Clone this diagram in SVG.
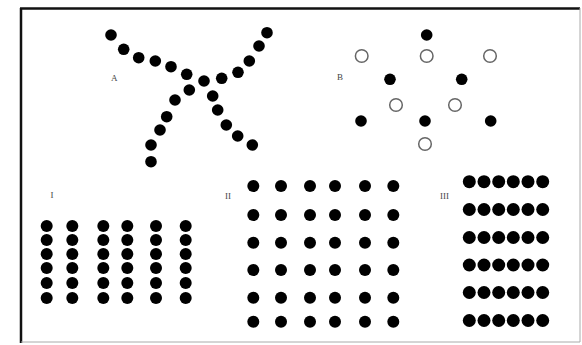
<svg xmlns="http://www.w3.org/2000/svg" width="582" height="345" viewBox="0 0 582 345">
<style>
.d{fill:#000}
.o{fill:#fff;stroke:#666;stroke-width:1.5}
.t{font-family:"Liberation Serif",serif;font-size:9px;fill:#444}
</style>
<rect x="0" y="0" width="582" height="345" fill="#fff"/>
<g id="frame">
<line x1="21" y1="8" x2="21" y2="343" stroke="#111" stroke-width="2.5"/>
<line x1="20" y1="8.5" x2="580" y2="8.5" stroke="#111" stroke-width="2.5"/>
<line x1="580" y1="8" x2="580" y2="342" stroke="#aaa" stroke-width="1"/>
<line x1="21" y1="342" x2="580" y2="342" stroke="#aaa" stroke-width="1"/>
</g>
<g id="groupA">
<text class="t" x="111" y="81">A</text>
<circle class="d" cx="111" cy="35" r="5.8"/>
<circle class="d" cx="123.7" cy="49.3" r="5.8"/>
<circle class="d" cx="138.7" cy="57.7" r="5.8"/>
<circle class="d" cx="155.3" cy="61" r="5.8"/>
<circle class="d" cx="171" cy="66.7" r="5.8"/>
<circle class="d" cx="186.7" cy="74.3" r="5.8"/>
<circle class="d" cx="204" cy="81" r="5.8"/>
<circle class="d" cx="221.7" cy="78.3" r="5.8"/>
<circle class="d" cx="238" cy="72.3" r="5.8"/>
<circle class="d" cx="249.3" cy="61" r="5.8"/>
<circle class="d" cx="259" cy="46" r="5.8"/>
<circle class="d" cx="267" cy="32.7" r="5.8"/>
<circle class="d" cx="189.3" cy="90" r="5.8"/>
<circle class="d" cx="175" cy="100" r="5.8"/>
<circle class="d" cx="166.7" cy="116.7" r="5.8"/>
<circle class="d" cx="160" cy="130" r="5.8"/>
<circle class="d" cx="151" cy="145" r="5.8"/>
<circle class="d" cx="151" cy="161.7" r="5.8"/>
<circle class="d" cx="212.7" cy="96" r="5.8"/>
<circle class="d" cx="217.7" cy="110" r="5.8"/>
<circle class="d" cx="226.3" cy="125" r="5.8"/>
<circle class="d" cx="237.7" cy="136" r="5.8"/>
<circle class="d" cx="252.3" cy="145" r="5.8"/>
</g>
<g id="groupB">
<text class="t" x="337" y="80">B</text>
<circle class="d" cx="426.7" cy="35" r="5.8"/>
<circle class="d" cx="390" cy="79.3" r="5.8"/>
<circle class="d" cx="461.7" cy="79.3" r="5.8"/>
<circle class="d" cx="361" cy="121" r="5.8"/>
<circle class="d" cx="425" cy="121" r="5.8"/>
<circle class="d" cx="490.7" cy="121" r="5.8"/>
<circle class="o" cx="361.7" cy="56" r="6.3"/>
<circle class="o" cx="426.7" cy="56" r="6.3"/>
<circle class="o" cx="490" cy="56" r="6.3"/>
<circle class="o" cx="396" cy="105" r="6.3"/>
<circle class="o" cx="455" cy="105" r="6.3"/>
<circle class="o" cx="425" cy="144" r="6.3"/>
</g>
<g id="groupI">
<text class="t" x="50.5" y="198">I</text>
<circle class="d" cx="46.7" cy="226" r="6"/><circle class="d" cx="46.7" cy="240" r="6"/><circle class="d" cx="46.7" cy="254" r="6"/><circle class="d" cx="46.7" cy="268" r="6"/><circle class="d" cx="46.7" cy="283" r="6"/><circle class="d" cx="46.7" cy="298" r="6"/>
<circle class="d" cx="72.3" cy="226" r="6"/><circle class="d" cx="72.3" cy="240" r="6"/><circle class="d" cx="72.3" cy="254" r="6"/><circle class="d" cx="72.3" cy="268" r="6"/><circle class="d" cx="72.3" cy="283" r="6"/><circle class="d" cx="72.3" cy="298" r="6"/>
<circle class="d" cx="103.3" cy="226" r="6"/><circle class="d" cx="103.3" cy="240" r="6"/><circle class="d" cx="103.3" cy="254" r="6"/><circle class="d" cx="103.3" cy="268" r="6"/><circle class="d" cx="103.3" cy="283" r="6"/><circle class="d" cx="103.3" cy="298" r="6"/>
<circle class="d" cx="127.3" cy="226" r="6"/><circle class="d" cx="127.3" cy="240" r="6"/><circle class="d" cx="127.3" cy="254" r="6"/><circle class="d" cx="127.3" cy="268" r="6"/><circle class="d" cx="127.3" cy="283" r="6"/><circle class="d" cx="127.3" cy="298" r="6"/>
<circle class="d" cx="156" cy="226" r="6"/><circle class="d" cx="156" cy="240" r="6"/><circle class="d" cx="156" cy="254" r="6"/><circle class="d" cx="156" cy="268" r="6"/><circle class="d" cx="156" cy="283" r="6"/><circle class="d" cx="156" cy="298" r="6"/>
<circle class="d" cx="185.7" cy="226" r="6"/><circle class="d" cx="185.7" cy="240" r="6"/><circle class="d" cx="185.7" cy="254" r="6"/><circle class="d" cx="185.7" cy="268" r="6"/><circle class="d" cx="185.7" cy="283" r="6"/><circle class="d" cx="185.7" cy="298" r="6"/>
</g>
<g id="groupII">
<text class="t" x="225" y="199">II</text>
<circle class="d" cx="253.3" cy="186" r="6"/><circle class="d" cx="281" cy="186" r="6"/><circle class="d" cx="310" cy="186" r="6"/><circle class="d" cx="335" cy="186" r="6"/><circle class="d" cx="365" cy="186" r="6"/><circle class="d" cx="393.3" cy="186" r="6"/>
<circle class="d" cx="253.3" cy="215" r="6"/><circle class="d" cx="281" cy="215" r="6"/><circle class="d" cx="310" cy="215" r="6"/><circle class="d" cx="335" cy="215" r="6"/><circle class="d" cx="365" cy="215" r="6"/><circle class="d" cx="393.3" cy="215" r="6"/>
<circle class="d" cx="253.3" cy="242.7" r="6"/><circle class="d" cx="281" cy="242.7" r="6"/><circle class="d" cx="310" cy="242.7" r="6"/><circle class="d" cx="335" cy="242.7" r="6"/><circle class="d" cx="365" cy="242.7" r="6"/><circle class="d" cx="393.3" cy="242.7" r="6"/>
<circle class="d" cx="253.3" cy="270" r="6"/><circle class="d" cx="281" cy="270" r="6"/><circle class="d" cx="310" cy="270" r="6"/><circle class="d" cx="335" cy="270" r="6"/><circle class="d" cx="365" cy="270" r="6"/><circle class="d" cx="393.3" cy="270" r="6"/>
<circle class="d" cx="253.3" cy="297.7" r="6"/><circle class="d" cx="281" cy="297.7" r="6"/><circle class="d" cx="310" cy="297.7" r="6"/><circle class="d" cx="335" cy="297.7" r="6"/><circle class="d" cx="365" cy="297.7" r="6"/><circle class="d" cx="393.3" cy="297.7" r="6"/>
<circle class="d" cx="253.3" cy="321.7" r="6"/><circle class="d" cx="281" cy="321.7" r="6"/><circle class="d" cx="310" cy="321.7" r="6"/><circle class="d" cx="335" cy="321.7" r="6"/><circle class="d" cx="365" cy="321.7" r="6"/><circle class="d" cx="393.3" cy="321.7" r="6"/>
</g>
<g id="groupIII">
<text class="t" x="440" y="199">III</text>
<circle class="d" cx="469.3" cy="181.7" r="6.5"/><circle class="d" cx="484" cy="181.7" r="6.5"/><circle class="d" cx="498.7" cy="181.7" r="6.5"/><circle class="d" cx="513.3" cy="181.7" r="6.5"/><circle class="d" cx="528" cy="181.7" r="6.5"/><circle class="d" cx="542.7" cy="181.7" r="6.5"/>
<circle class="d" cx="469.3" cy="209.5" r="6.5"/><circle class="d" cx="484" cy="209.5" r="6.5"/><circle class="d" cx="498.7" cy="209.5" r="6.5"/><circle class="d" cx="513.3" cy="209.5" r="6.5"/><circle class="d" cx="528" cy="209.5" r="6.5"/><circle class="d" cx="542.7" cy="209.5" r="6.5"/>
<circle class="d" cx="469.3" cy="237.5" r="6.5"/><circle class="d" cx="484" cy="237.5" r="6.5"/><circle class="d" cx="498.7" cy="237.5" r="6.5"/><circle class="d" cx="513.3" cy="237.5" r="6.5"/><circle class="d" cx="528" cy="237.5" r="6.5"/><circle class="d" cx="542.7" cy="237.5" r="6.5"/>
<circle class="d" cx="469.3" cy="265" r="6.5"/><circle class="d" cx="484" cy="265" r="6.5"/><circle class="d" cx="498.7" cy="265" r="6.5"/><circle class="d" cx="513.3" cy="265" r="6.5"/><circle class="d" cx="528" cy="265" r="6.5"/><circle class="d" cx="542.7" cy="265" r="6.5"/>
<circle class="d" cx="469.3" cy="292.5" r="6.5"/><circle class="d" cx="484" cy="292.5" r="6.5"/><circle class="d" cx="498.7" cy="292.5" r="6.5"/><circle class="d" cx="513.3" cy="292.5" r="6.5"/><circle class="d" cx="528" cy="292.5" r="6.5"/><circle class="d" cx="542.7" cy="292.5" r="6.5"/>
<circle class="d" cx="469.3" cy="320.5" r="6.5"/><circle class="d" cx="484" cy="320.5" r="6.5"/><circle class="d" cx="498.7" cy="320.5" r="6.5"/><circle class="d" cx="513.3" cy="320.5" r="6.5"/><circle class="d" cx="528" cy="320.5" r="6.5"/><circle class="d" cx="542.7" cy="320.5" r="6.5"/>
</g>
</svg>
